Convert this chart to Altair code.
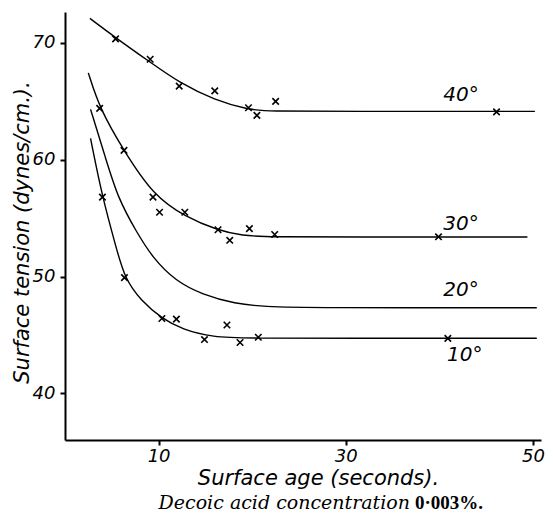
import altair as alt
import pandas as pd

# ---- smooth curves (surface age s, tension dynes/cm) ----
c40_x = [2.66, 5.4, 9.1, 12.2, 16.0, 19.6, 21.5, 30.0, 50.2]
c40_y = [72.1, 70.45, 68.35, 66.6, 65.1, 64.3, 64.14, 64.14, 64.14]

c30_x = [2.49, 3.71, 6.25, 9.43, 12.89, 16.35, 18.89, 22.0, 30.0, 49.4]
c30_y = [67.44, 64.37, 60.82, 56.95, 55.1, 53.95, 53.5, 53.38, 53.38, 53.38]

c20_x = [2.73, 4.35, 5.66, 7.60, 9.37, 11.83, 14.66, 18.18, 21.35, 26.0, 50.4]
c20_y = [64.31, 60.11, 56.70, 53.87, 51.59, 49.60, 48.46, 47.66, 47.42, 47.32, 47.32]

c10_x = [2.73, 3.97, 5.48, 6.36, 8.13, 10.35, 12.54, 15.7, 20.0, 30.0, 50.4]
c10_y = [61.82, 56.85, 52.44, 49.88, 47.9, 46.41, 45.47, 44.8, 44.71, 44.71, 44.71]

# ---- measured points (x marks) ----
m40_x = [5.4, 9.1, 12.2, 16.0, 19.6, 20.5, 22.5, 46.1]
m40_y = [70.35, 68.6, 66.3, 65.9, 64.45, 63.8, 65.0, 64.1]

m30_x = [3.7, 6.3, 9.4, 10.1, 12.8, 16.35, 17.6, 19.7, 22.4, 39.9]
m30_y = [64.4, 60.8, 56.8, 55.5, 55.5, 54.0, 53.1, 54.1, 53.6, 53.4]

m10_x = [4.0, 6.35, 10.35, 11.9, 14.9, 17.3, 18.7, 20.65, 40.9]
m10_y = [56.8, 49.9, 46.4, 46.35, 44.6, 45.85, 44.35, 44.8, 44.7]

# ---- curve labels ----
label_text = ["40°", "30°", "20°", "10°"]
label_x = [42.3, 42.3, 42.3, 42.7]
label_y = [65.5, 54.5, 48.85, 43.25]

y_ticks = [40, 50, 60, 70]
x_ticks = [10, 30, 50]

caption_left = "Decoic acid concentration"
caption_right = "0·003%."


def frame(name, xs, ys):
    return pd.DataFrame({"series": name, "x": xs, "y": ys})


curves = pd.concat([
    frame("40", c40_x, c40_y),
    frame("30", c30_x, c30_y),
    frame("20", c20_x, c20_y),
    frame("10", c10_x, c10_y),
], ignore_index=True)

markers = pd.concat([
    frame("40", m40_x, m40_y),
    frame("30", m30_x, m30_y),
    frame("10", m10_x, m10_y),
], ignore_index=True)

labels = pd.DataFrame({"label": label_text, "x": label_x, "y": label_y})

xs = alt.Scale(domain=[0, 50.85], nice=False, zero=False)
ys = alt.Scale(domain=[36, 72.65], nice=False, zero=False)

x_axis = alt.Axis(values=x_ticks, title="Surface age (seconds).", titleX=253, titleY=38,
                  titleBaseline="middle", titleAlign="center", labelPadding=2)
y_axis = alt.Axis(values=y_ticks, title="Surface tension (dynes/cm.).", titleX=-43, titleY=220,
                  titleAngle=-90, titleBaseline="middle", titleAlign="center", labelPadding=5)

lines = alt.Chart(curves).mark_line(interpolate="basis", color="black", strokeWidth=1.4).encode(
    x=alt.X("x:Q", scale=xs, axis=x_axis),
    y=alt.Y("y:Q", scale=ys, axis=y_axis),
    detail="series:N",
)

points = alt.Chart(markers).mark_point(
    shape="M-1,-1L1,1M-1,1L1,-1", size=42, filled=False, color="black", strokeWidth=1.6, opacity=1
).encode(x=alt.X("x:Q", scale=xs), y=alt.Y("y:Q", scale=ys))

texts = alt.Chart(labels).mark_text(
    font="DejaVu Sans", fontStyle="italic", fontSize=20, color="black"
).encode(x=alt.X("x:Q", scale=xs), y=alt.Y("y:Q", scale=ys), text="label:N")

cap1 = alt.Chart(pd.DataFrame({"t": [caption_left]})).mark_text(
    font="DejaVu Serif", fontStyle="italic", fontSize=19, color="black", align="right", baseline="middle"
).encode(x=alt.value(345), y=alt.value(491), text="t:N")

cap2 = alt.Chart(pd.DataFrame({"t": [caption_right]})).mark_text(
    font="Liberation Serif", fontWeight="bold", fontSize=19, color="black", align="left", baseline="middle"
).encode(x=alt.value(350), y=alt.value(491), text="t:N")

chart = alt.layer(lines, points, texts, cap1, cap2).properties(
    width=476, height=428, autosize="none",
    padding={"left": 57, "top": 4, "right": 4, "bottom": 75},
).configure_view(stroke=None).configure_axis(
    domainColor="black", domainWidth=2, tickColor="black", tickWidth=2, tickSize=5,
    grid=False, labelFont="DejaVu Sans", labelFontStyle="italic", labelFontSize=18,
    labelColor="black", titleFont="DejaVu Sans", titleFontStyle="italic", titleFontSize=21,
    titleFontWeight="normal", titleColor="black",
)

chart.save("out.html", embed_options={"renderer": "svg", "actions": False})
